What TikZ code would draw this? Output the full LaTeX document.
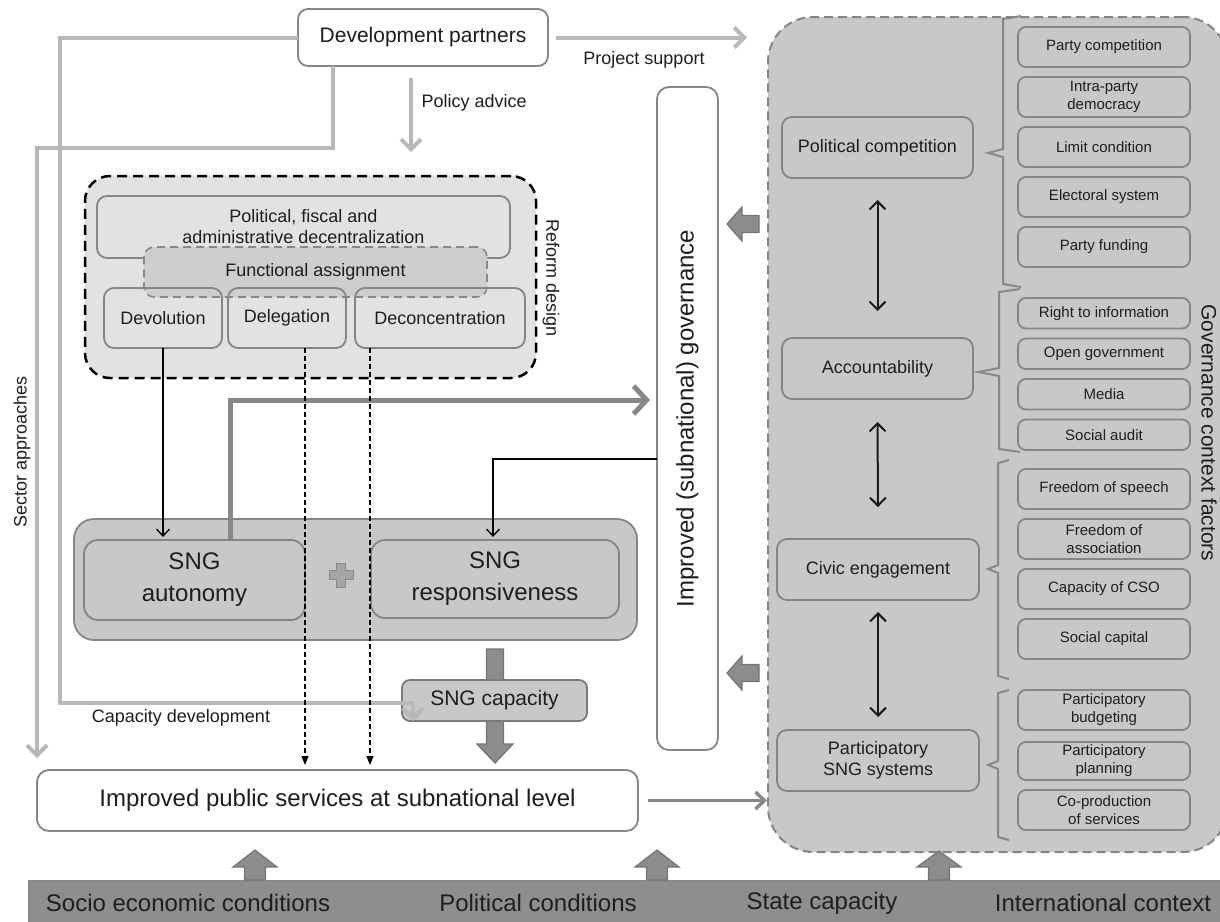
\documentclass[tikz,border=0pt]{standalone}
\usepackage{fontspec}
\setmainfont{Liberation Sans}
\usetikzlibrary{positioning,arrows.meta}

\definecolor{linegray}{RGB}{184,184,184}
\definecolor{bordergray}{RGB}{133,133,133}
\definecolor{arrowgray}{RGB}{136,136,136}
\definecolor{reformfill}{RGB}{226,226,227}
\definecolor{assignfill}{RGB}{206,206,207}
\definecolor{sngfill}{RGB}{200,200,201}
\definecolor{panelfill}{RGB}{200,200,201}
\definecolor{barfill}{RGB}{142,142,143}
\definecolor{blockfill}{RGB}{140,140,141}
\definecolor{plusfill}{RGB}{165,165,166}
\definecolor{textblack}{RGB}{30,30,30}

\newcommand{\fsbig}{\fontsize{24}{32}\selectfont}
\newcommand{\fsmid}{\fontsize{21}{25}\selectfont}
\newcommand{\fslabel}{\fontsize{18}{21}\selectfont}
\newcommand{\fssmall}{\fontsize{15}{18}\selectfont}

% tip, rotation, length, head half width, shaft half width, head length
\newcommand{\blockarrow}[6]{%
  \filldraw[blockstyle, shift={#1}, rotate=#2]
    (0,0) -- (-#4,#6) -- (-#5,#6) -- (-#5,#3) -- (#5,#3) -- (#5,#6) -- (#4,#6) -- cycle;}

\begin{document}
\begin{tikzpicture}[x=1pt, y=-1pt, font=\fslabel, text=textblack,
    roundbox/.style={draw=bordergray, line width=1.8pt, rounded corners=10pt, align=center, inner sep=0pt, outer sep=0pt},
    factor/.style={roundbox, fill=panelfill, minimum height=61pt},
    subfactor/.style={roundbox, fill=panelfill, rounded corners=8pt, minimum width=172pt, minimum height=40pt, font=\fssmall},
    reformpart/.style={roundbox, minimum height=60pt},
    blockstyle/.style={fill=blockfill, draw=arrowgray!85!black, line width=1.2pt},
    partnerline/.style={draw=linegray, line width=4pt, -{Straight Barb[length=10pt,width=20pt]}},
    govarrow/.style={draw=arrowgray, line width=5pt, -{Straight Barb[length=13pt,width=28pt]}},
    servicearrow/.style={draw=arrowgray, line width=3.5pt, -{Straight Barb[length=9pt,width=17pt]}},
    blackarrow/.style={draw=black, line width=1.3pt, shorten >=3pt, -{Straight Barb[length=7pt,width=13pt]}},
    dashline/.style={draw=black, line width=1.1pt, dash pattern=on 5pt off 3pt, shorten >=5pt, -{Triangle[length=9pt,width=7pt]}},
    twoway/.style={draw=black!90, line width=2pt, {Straight Barb[length=8pt,width=16pt]}-{Straight Barb[length=8pt,width=16pt]}},
    factorbrace/.style={draw=arrowgray, line width=2pt}
  ]
  \useasboundingbox (0,0) rectangle (1220,921);
  \clip (0,0) rectangle (1220,921);

  % governance context panel
  \node[draw=bordergray, line width=2pt, dash pattern=on 9pt off 5pt, fill=panelfill, rounded corners=45pt,
        minimum width=460pt, minimum height=835pt, anchor=north west] (panel) at (767,16) {};

  % context conditions
  \node[draw=arrowgray, line width=1.5pt, fill=barfill, minimum width=1200pt, minimum height=45pt,
        inner sep=0pt, anchor=north west] (bar) at (28,880) {};
  \node[font=\fsbig] (socio) at (188,903) {Socio economic conditions};
  \node[font=\fsbig] (polcond) at (538,903) {Political conditions};
  \node[font=\fsbig] (statecap) at (822,903) {State capacity};
  \node[font=\fsbig] (intl) at (1103,903) {International context};
  \blockarrow{(255,850)}{0}{30}{22}{10.5}{17}
  \blockarrow{(657,850)}{0}{30}{22}{10.5}{17}
  \blockarrow{(939,851)}{0}{29}{22}{10.5}{16}

  % reform design
  \node[draw=black, line width=2.5pt, dash pattern=on 10pt off 6pt, fill=reformfill, rounded corners=25pt,
        minimum width=451pt, minimum height=202pt] (reform) at (310.5,277) {};
  \node[rotate=-90] (reformlabel) at (551,278) {Reform design};
  \node[reformpart, fill=reformfill, minimum width=413pt, minimum height=62pt] (decent) at (303.5,227)
        {Political, fiscal and\\administrative decentralization};
  \node[reformpart, fill=assignfill, draw=arrowgray, dash pattern=on 8pt off 5pt, line width=1.6pt,
        minimum width=343pt, minimum height=50pt] (assign) at (315.5,272) {Functional assignment};
  \node[reformpart, minimum width=118pt] (devol) at (163,318) {Devolution};
  \node[reformpart, minimum width=118pt, right=6pt of devol] (deleg) {Delegation};
  \node[reformpart, minimum width=170pt, right=9pt of deleg] (decon) {Deconcentration};

  % governance and partners
  \node[roundbox, fill=white, rotate=90, rounded corners=12pt, minimum width=663pt, minimum height=61pt,
        font=\fsbig] (gov) at (687.5,418.5) {Improved (subnational) governance};
  \node[roundbox, fill=white, minimum width=250pt, minimum height=57pt, font=\fsmid] (dp) at (423,37.5)
        {Development partners};

  % SNG
  \node[roundbox, fill=sngfill, rounded corners=20pt, minimum width=563pt, minimum height=121pt] (sng) at (355.5,579.5) {};
  \node[roundbox, fill=sngfill, rounded corners=14pt, minimum width=221pt, minimum height=80pt, font=\fsbig]
        (auto) at (194.5,580) {SNG\\autonomy};
  \node[roundbox, fill=sngfill, rounded corners=14pt, minimum width=248pt, minimum height=78pt, font=\fsbig]
        (resp) at (495,579) {SNG\\responsiveness};
  \filldraw[fill=plusfill, draw=arrowgray, line width=1pt]
    (336.5,563) -- (345.5,563) -- (345.5,570.5) -- (353,570.5) -- (353,579.5) -- (345.5,579.5)
    -- (345.5,587) -- (336.5,587) -- (336.5,579.5) -- (329,579.5) -- (329,570.5) -- (336.5,570.5) -- cycle;
  \blockarrow{(495,763)}{180}{114}{18}{8.5}{19}
  \node[roundbox, fill=sngfill, draw=arrowgray!90!black, rounded corners=8pt, minimum width=185pt,
        minimum height=41pt, font=\fsmid] (cap) at (494.5,700.5) {SNG capacity};
  \node[roundbox, fill=white, rounded corners=12pt, minimum width=601pt, minimum height=61pt, font=\fsbig]
        (pub) at (337.5,800.5) {Improved public services at subnational level};

  % governance factors
  \node[factor, minimum width=191pt] (polcomp) at (877.5,147.5) {Political competition};
  \node[factor, minimum width=191pt] (account) at (877.5,368.5) {Accountability};
  \node[factor, minimum width=202pt] (civic) at (878,569.5) {Civic engagement};
  \node[factor, minimum width=202pt] (partsys) at (878,760.5) {Participatory\\SNG systems};
  \draw[twoway] ([yshift=-22pt]polcomp.south) -- ([yshift=27pt]account.north);
  \draw[twoway] ([yshift=-23pt]account.south) -- ([yshift=32pt]civic.north);
  \draw[twoway] ([yshift=-12pt]civic.south) -- ([yshift=13pt]partsys.north);

  \node[subfactor] (partycomp) at (1104,47) {Party competition};
  \node[subfactor, below=10pt of partycomp] (intraparty) {Intra-party\\democracy};
  \node[subfactor, below=10pt of intraparty] (limitcond) {Limit condition};
  \node[subfactor, below=10pt of limitcond] (electoral) {Electoral system};
  \node[subfactor, below=10pt of electoral] (partyfund) {Party funding};

  \node[subfactor, minimum height=30.5pt] (rti) at (1104,313.25) {Right to information};
  \node[subfactor, minimum height=30.5pt, below=10pt of rti] (opengov) {Open government};
  \node[subfactor, minimum height=30.5pt, below=10pt of opengov] (media) {Media};
  \node[subfactor, minimum height=30.5pt, below=10pt of media] (audit) {Social audit};

  \node[subfactor] (speech) at (1104,489) {Freedom of speech};
  \node[subfactor, below=10pt of speech] (assoc) {Freedom of\\association};
  \node[subfactor, below=10pt of assoc] (cso) {Capacity of CSO};
  \node[subfactor, below=10pt of cso] (social) {Social capital};

  \node[subfactor] (budget) at (1104,710) {Participatory\\budgeting};
  \node[subfactor, minimum height=38pt, below=12pt of budget] (planning) {Participatory\\planning};
  \node[subfactor, below=10pt of planning] (coprod) {Co-production\\of services};

  \foreach \vx/\ya/\yb/\nx/\ny/\tipx in {1003/16/287/988/153/1021, 999/289/452/978/372/1020,
      998/460/679/988/569/1009, 998/690/840/988/765/1009}
    \draw[factorbrace] (\tipx,\ya) -- (\vx,\ya+3) -- (\vx,\ny-4) -- (\nx,\ny) -- (\vx,\ny+4)
      -- (\vx,\yb-3) -- (\tipx,\yb);
  \node[rotate=-90, font=\fsmid] (gclabel) at (1209,433) {Governance context factors};

  \blockarrow{(727,224)}{90}{32}{17}{8.5}{15}
  \blockarrow{(727,673)}{90}{32}{17}{8.5}{15}

  % connectors
  \coordinate (capin) at (413,721);
  \coordinate (sectortip) at (37,758);
  \coordinate (advicetip) at (411,152);
  \coordinate (supporttip) at (747,37.5);
  \coordinate (govhit) at (650,400);
  \coordinate (govjoin) at (657,459);
  \coordinate (paneltip) at (767,800.5);

  \draw[partnerline] (dp.west) -| (60,703) -| (capin);
  \draw[partnerline] ([xshift=-90pt]dp.south) |- (37,148) -- (sectortip);
  \draw[partnerline] ([xshift=-12pt,yshift=-12pt]dp.south) -- (advicetip);
  \draw[partnerline] ([xshift=8pt]dp.east) -- (supporttip);
  \node[anchor=west] (advicelabel) at (418,103) {Policy advice};
  \node (supportlabel) at (644,60) {Project support};
  \node[rotate=90] (sectorlabel) at (22,452) {Sector approaches};
  \node (capdevlabel) at (181,718) {Capacity development};

  \draw[blackarrow] (devol.south) -- (devol.south |- auto.north);
  \draw[govarrow] ([xshift=35.5pt]auto.north) |- (govhit);
  \draw[blackarrow] (govjoin) -| ([xshift=-2pt]resp.north);
  \draw[dashline] ([xshift=18pt]deleg.south) -- ([xshift=18pt]deleg.south |- pub.north);
  \draw[dashline] ([xshift=-70pt]decon.south) -- ([xshift=-70pt]decon.south |- pub.north);
  \draw[servicearrow] ([xshift=10pt]pub.east) -- (paneltip);
\end{tikzpicture}
\end{document}
